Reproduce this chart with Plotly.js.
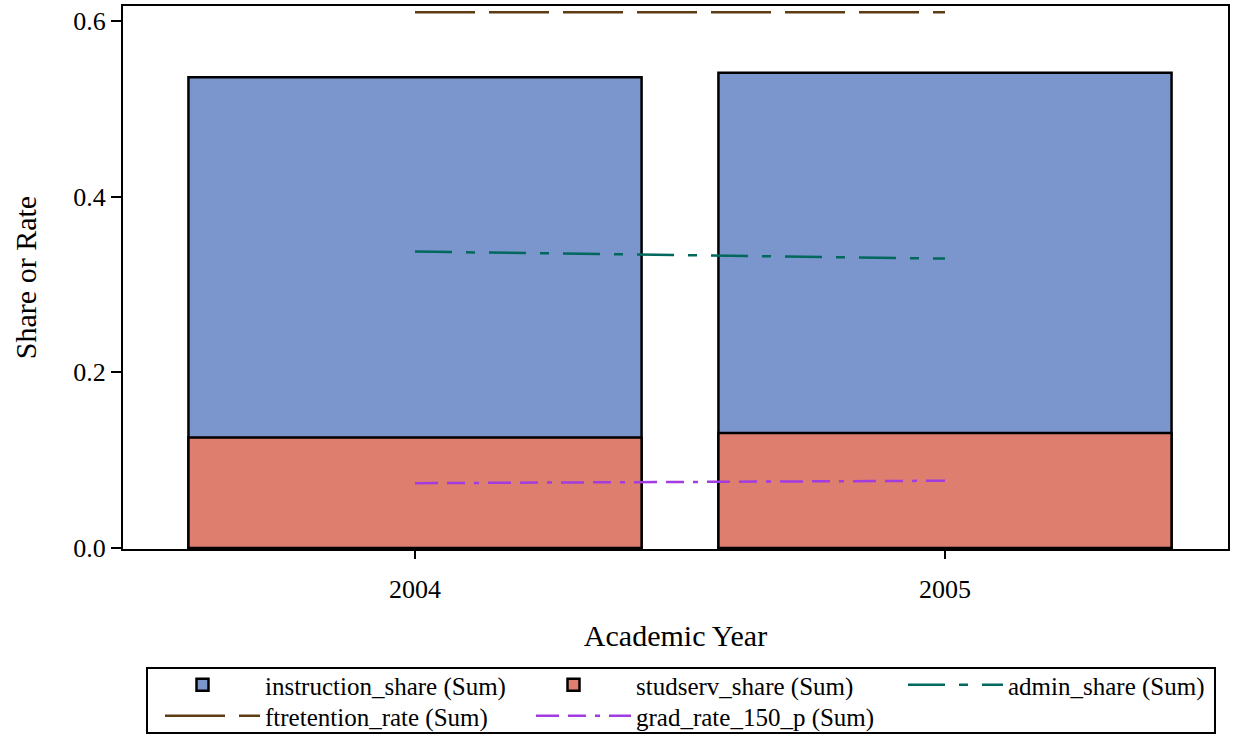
<!DOCTYPE html>
<html>
<head>
<meta charset="utf-8">
<script src="https://cdn.plot.ly/plotly-3.0.1.min.js"></script>
<style>html,body{margin:0;padding:0;background:#fff;}#chart{width:1247px;height:741px;}</style>
</head>
<body>
<div id="chart"></div>
<script>
const years = ["2004", "2005"];
const instructionShare = [0.536, 0.541];
const studservShare = [0.126, 0.131];
const adminShare = [0.3375, 0.3295];
const ftretentionRate = [0.610, 0.610];
const gradRate150 = [0.0739, 0.0767];

const font = "Liberation Serif, Times New Roman, serif";
const W = 1247, H = 741;

const traces = [
  {type: "bar", x: years, y: instructionShare, name: "instruction_share (Sum)", width: 0.855, legend: "legend",
   marker: {color: "#7B96CC", line: {color: "#000", width: 2.5}}},
  {type: "bar", x: years, y: studservShare, name: "studserv_share (Sum)", width: 0.855, legend: "legend2",
   marker: {color: "#DE7E6E", line: {color: "#000", width: 2.5}}},
  {type: "scatter", mode: "lines", x: years, y: adminShare, name: "admin_share (Sum)", legend: "legend3",
   line: {color: "#00685C", width: 2.5, dash: "37px,14px,9px,14px"}},
  {type: "scatter", mode: "lines", x: years, y: ftretentionRate, name: "ftretention_rate (Sum)", legend: "legend4",
   line: {color: "#5E3C12", width: 2.5, dash: "60px,14px"}},
  {type: "scatter", mode: "lines", x: years, y: gradRate150, name: "grad_rate_150_p (Sum)", legend: "legend5",
   line: {color: "#A23BE0", width: 2.5, dash: "23px,9px,18px,9px,5px,9px"}}
];

function leg(textX, rowTop, iw) {
  return {
    orientation: "h", xref: "container", yref: "container",
    x: (textX - iw - 10) / W, xanchor: "left", y: 1 - rowTop / H, yanchor: "top",
    borderwidth: 0, bgcolor: "rgba(0,0,0,0)",
    font: {family: font, size: 25, color: "#000"},
    itemwidth: iw
  };
}

const layout = {
  width: W, height: H,
  margin: {l: 123, r: 19, t: 6, b: 192, autoexpand: false},
  paper_bgcolor: "#fff", plot_bgcolor: "#fff",
  font: {family: font, color: "#000", size: 24},
  barmode: "overlay",
  showlegend: true,
  xaxis: {
    type: "category", range: [-0.551, 1.534],
    showline: true, linecolor: "#000", linewidth: 2, mirror: true,
    ticks: "outside", ticklen: 8, tickwidth: 2, tickcolor: "#000",
    ticklabelstandoff: 8,
    showgrid: false, zeroline: false,
    tickfont: {family: font, size: 26, color: "#000"},
    title: {text: "Academic Year", font: {family: font, size: 30, color: "#000"}, standoff: 22}
  },
  yaxis: {
    range: [-0.001, 0.617],
    tickvals: [0, 0.2, 0.4, 0.6], ticktext: ["0.0", "0.2", "0.4", "0.6"],
    showline: true, linecolor: "#000", linewidth: 2, mirror: true,
    ticks: "outside", ticklen: 10, tickwidth: 2, tickcolor: "#000",
    showgrid: false, zeroline: false,
    tickfont: {family: font, size: 26, color: "#000"},
    title: {text: "Share or Rate", font: {family: font, size: 30, color: "#000"}, standoff: 28}
  },
  shapes: [{
    type: "rect", xref: "paper", yref: "paper",
    x0: (147 - 123) / 1105, x1: (1215 - 123) / 1105,
    y0: (549 - 668) / 543, y1: (549 - 733) / 543,
    line: {color: "#000", width: 2}, fillcolor: "rgba(0,0,0,0)", layer: "above"
  }],
  legend: leg(265, 662, 115),
  legend2: leg(636, 662, 115),
  legend3: leg(1008, 662, 95),
  legend4: leg(265, 693, 95),
  legend5: leg(636, 693, 95)
};

Plotly.newPlot("chart", traces, layout, {displayModeBar: false, staticPlot: true});
</script>
</body>
</html>
